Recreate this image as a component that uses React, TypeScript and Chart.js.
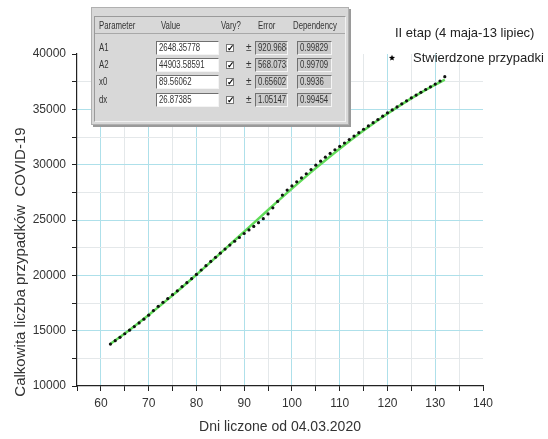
import React, { useEffect, useRef } from "react";
import { Chart, registerables } from "chart.js";

Chart.register(...registerables);

// Observed cumulative cases (day counted from 04.03.2020)
const days = [
  62, 63, 64, 65, 66, 67, 68, 69, 70, 71, 72, 73, 74, 75, 76, 77, 78, 79, 80, 81,
  82, 83, 84, 85, 86, 87, 88, 89, 90, 91, 92, 93, 94, 95, 96, 97, 98, 99, 100, 101,
  102, 103, 104, 105, 106, 107, 108, 109, 110, 111, 112, 113, 114, 115, 116, 117,
  118, 119, 120, 121, 122, 123, 124, 125, 126, 127, 128, 129, 130, 131, 132,
];
const cases = [
  13790, 14100, 14400, 14720, 15040, 15370, 15700, 16040, 16400, 16820, 17200,
  17560, 17900, 18250, 18600, 18980, 19340, 19700, 20080, 20480, 20870, 21260,
  21630, 22000, 22370, 22730, 23080, 23420, 23780, 24100, 24420, 24760, 25120,
  25550, 26100, 26680, 27250, 27700, 28080, 28450, 28800, 29180, 29560, 29950,
  30320, 30680, 31020, 31350, 31650, 31960, 32270, 32580, 32890, 33200, 33500,
  33790, 34080, 34380, 34680, 34950, 35220, 35500, 35770, 36040, 36290, 36540,
  36790, 37030, 37280, 37560, 37950,
];

// Fitted (Boltzmann) curve, sampled along the fitting range
const fitDays = [62, 66, 70, 75, 80, 85, 90, 95, 100, 105, 110, 115, 120, 125, 130, 132];
const fitCases = [
  13802, 15063, 16409, 18189, 20058, 21988, 23949, 25907, 27830, 29684, 31445,
  33091, 34608, 35987, 37225, 37682,
];

const xTickLabels = [60, 70, 80, 90, 100, 110, 120, 130, 140];
const yTickLabels = [10000, 15000, 20000, 25000, 30000, 35000, 40000];

const xTitle = "Dni liczone od 04.03.2020";
const yTitle = "Calkowita liczba przypadków  COVID-19";
const stageLabel = "II etap (4 maja-13 lipiec)";
const seriesLabel = "Stwierdzone przypadki";

// Fit parameter table
const paramNames = ["A1", "A2", "x0", "dx"];
const paramValues = ["2648.35778", "44903.58591", "89.56062", "26.87385"];
const paramErrors = ["920.96881", "568.07331", "0.65602", "1.05147"];
const paramDependency = ["0.99829", "0.99709", "0.9936", "0.99454"];

const FONT = "Arial, 'Liberation Sans', sans-serif";
const MAJOR_GRID = "#aee0ea";
const MINOR_GRID = "#e4e8ea";

const annotations = {
  id: "annotations",
  afterDraw(chart: any) {
    const { ctx, chartArea } = chart;
    ctx.save();
    ctx.fillStyle = "#333";
    ctx.textAlign = "center";
    ctx.textBaseline = "middle";
    ctx.font = `14px ${FONT}`;
    ctx.fillText(xTitle, (chartArea.left + chartArea.right) / 2, 427);

    ctx.save();
    ctx.translate(21, 262);
    ctx.rotate(-Math.PI / 2);
    ctx.font = `15px ${FONT}`;
    ctx.fillText(yTitle, 0, 0);
    ctx.restore();

    // legend
    ctx.textAlign = "left";
    ctx.fillStyle = "#222";
    ctx.font = `13px ${FONT}`;
    ctx.fillText(stageLabel, 395, 33);
    ctx.fillText(seriesLabel, 413, 58);
    const sx = 392, sy = 58, ro = 3.2, ri = 1.4;
    ctx.beginPath();
    for (let i = 0; i < 10; i++) {
      const r = i % 2 === 0 ? ro : ri;
      const a = -Math.PI / 2 + (i * Math.PI) / 5;
      const px = sx + r * Math.cos(a);
      const py = sy + r * Math.sin(a);
      if (i === 0) ctx.moveTo(px, py);
      else ctx.lineTo(px, py);
    }
    ctx.closePath();
    ctx.fillStyle = "#000";
    ctx.fill();
    ctx.restore();
  },
};

const narrow: React.CSSProperties = {
  display: "inline-block",
  transform: "scaleX(0.78)",
  transformOrigin: "left center",
  whiteSpace: "nowrap",
};

function Cell({ left, top, width, bg, text }: { left: number; top: number; width: number; bg: string; text: string }) {
  return (
    <div
      style={{
        position: "absolute",
        left,
        top,
        width,
        height: 14,
        background: bg,
        borderTop: "1px solid #707070",
        borderLeft: "1px solid #707070",
        borderBottom: "1px solid #f4f4f4",
        borderRight: "1px solid #f4f4f4",
        boxSizing: "border-box",
        overflow: "hidden",
        fontSize: 10,
        lineHeight: "12px",
        paddingLeft: 2,
        color: "#333",
      }}
    >
      <span style={narrow}>{text}</span>
    </div>
  );
}

function ParamTable() {
  const rowTops = [40, 57, 74, 92];
  const headers: [string, number][] = [
    ["Parameter", 98],
    ["Value", 160],
    ["Vary?", 220],
    ["Error", 257],
    ["Dependency", 292],
  ];
  return (
    <div
      style={{
        position: "absolute",
        left: 91,
        top: 7,
        width: 258,
        height: 118,
        background: "#d8d8d8",
        border: "1px solid #b0b0b0",
        boxShadow: "2px 2px 0 #9a9a9a",
        boxSizing: "border-box",
        fontFamily: FONT,
        color: "#333",
      }}
    >
      <div
        style={{
          position: "absolute",
          left: 2,
          top: 8,
          right: 2,
          bottom: 2,
          borderTop: "1px solid #9a9a9a",
          borderLeft: "1px solid #9a9a9a",
          borderBottom: "1px solid #f2f2f2",
          borderRight: "1px solid #f2f2f2",
        }}
      />
      <div style={{ position: "absolute", left: 3, right: 3, top: 25, height: 1, background: "#a8a8a8" }} />
      {headers.map(([h, x]) => (
        <div key={h} style={{ position: "absolute", left: x - 91, top: 12, fontSize: 10, lineHeight: "12px" }}>
          <span style={narrow}>{h}</span>
        </div>
      ))}
      {paramNames.map((name, i) => {
        const top = rowTops[i] - 7;
        return (
          <React.Fragment key={name}>
            <div style={{ position: "absolute", left: 98 - 91, top: top + 1, fontSize: 10, lineHeight: "12px" }}>
              <span style={narrow}>{name}</span>
            </div>
            <Cell left={155 - 91} top={top} width={63} bg="#ffffff" text={paramValues[i]} />
            <div
              style={{
                position: "absolute",
                left: 225 - 91,
                top: top + 3,
                width: 8,
                height: 8,
                background: "#fff",
                border: "1px solid #777",
                boxSizing: "border-box",
                fontSize: 9,
                lineHeight: "7px",
                textAlign: "center",
                color: "#000",
                fontWeight: 700,
              }}
            >
              ✓
            </div>
            <div style={{ position: "absolute", left: 245 - 91, top: top + 1, fontSize: 10, lineHeight: "12px" }}>±</div>
            <Cell left={254 - 91} top={top} width={33} bg="#cbcbcb" text={paramErrors[i]} />
            <Cell left={296 - 91} top={top} width={35} bg="#cbcbcb" text={paramDependency[i]} />
          </React.Fragment>
        );
      })}
    </div>
  );
}

export default function App() {
  const ref = useRef<HTMLCanvasElement | null>(null);

  useEffect(() => {
    if (!ref.current) return;
    const chart = new Chart(ref.current, {
      type: "scatter",
      data: {
        datasets: [
          {
            label: "fit",
            data: fitDays.map((d, i) => ({ x: d, y: fitCases[i] })),
            showLine: true,
            borderColor: "#62dc5a",
            borderWidth: 2.5,
            pointRadius: 0,
            tension: 0.4,
            cubicInterpolationMode: "monotone",
            order: 2,
          } as any,
          {
            label: seriesLabel,
            data: days.map((d, i) => ({ x: d, y: cases[i] })),
            pointRadius: 1.6,
            pointBackgroundColor: "#111",
            pointBorderColor: "#111",
            pointBorderWidth: 0,
            order: 1,
          },
        ],
      },
      plugins: [annotations],
      options: {
        animation: false,
        responsive: false,
        events: [],
        layout: { padding: { top: 54, right: 65, left: 0, bottom: 0 } },
        plugins: { legend: { display: false }, tooltip: { enabled: false } },
        scales: {
          x: {
            type: "linear",
            min: 55,
            max: 140,
            afterFit: (s: any) => {
              s.height = 53;
            },
            ticks: {
              stepSize: 5,
              autoSkip: false,
              maxRotation: 0,
              padding: 5,
              color: "#333",
              font: { family: FONT, size: 12 },
              callback: (v: any) => (xTickLabels.includes(Number(v)) ? String(v) : ""),
            },
            grid: {
              color: (c: any) => {
                const v = c.tick ? c.tick.value : 0;
                if (v <= 55 || v >= 140) return "rgba(0,0,0,0)";
                return v % 10 === 0 ? MAJOR_GRID : MINOR_GRID;
              },
              tickColor: "#222",
              tickLength: 5,
              lineWidth: 1,
            },
            border: { display: true, color: "#222", width: 1.2 },
          },
          y: {
            type: "linear",
            min: 10000,
            max: 40000,
            afterFit: (s: any) => {
              s.width = 77;
            },
            ticks: {
              stepSize: 2500,
              autoSkip: false,
              padding: 6,
              color: "#333",
              font: { family: FONT, size: 12 },
              callback: (v: any) => (yTickLabels.includes(Number(v)) ? String(v) : ""),
            },
            grid: {
              color: (c: any) => {
                const v = c.tick ? c.tick.value : 0;
                if (v <= 10000 || v >= 40000) return "rgba(0,0,0,0)";
                return v % 5000 === 0 ? MAJOR_GRID : MINOR_GRID;
              },
              tickColor: "#222",
              tickLength: 5,
              lineWidth: 1,
            },
            border: { display: true, color: "#222", width: 1.2 },
          },
        },
      },
    });
    return () => chart.destroy();
  }, []);

  return (
    <div style={{ position: "fixed", left: 0, top: 0, width: 548, height: 439, background: "#fff", overflow: "hidden" }}>
      <canvas ref={ref} width={548} height={439} style={{ position: "absolute", left: 0, top: 0, width: 548, height: 439 }} />
      <ParamTable />
    </div>
  );
}
